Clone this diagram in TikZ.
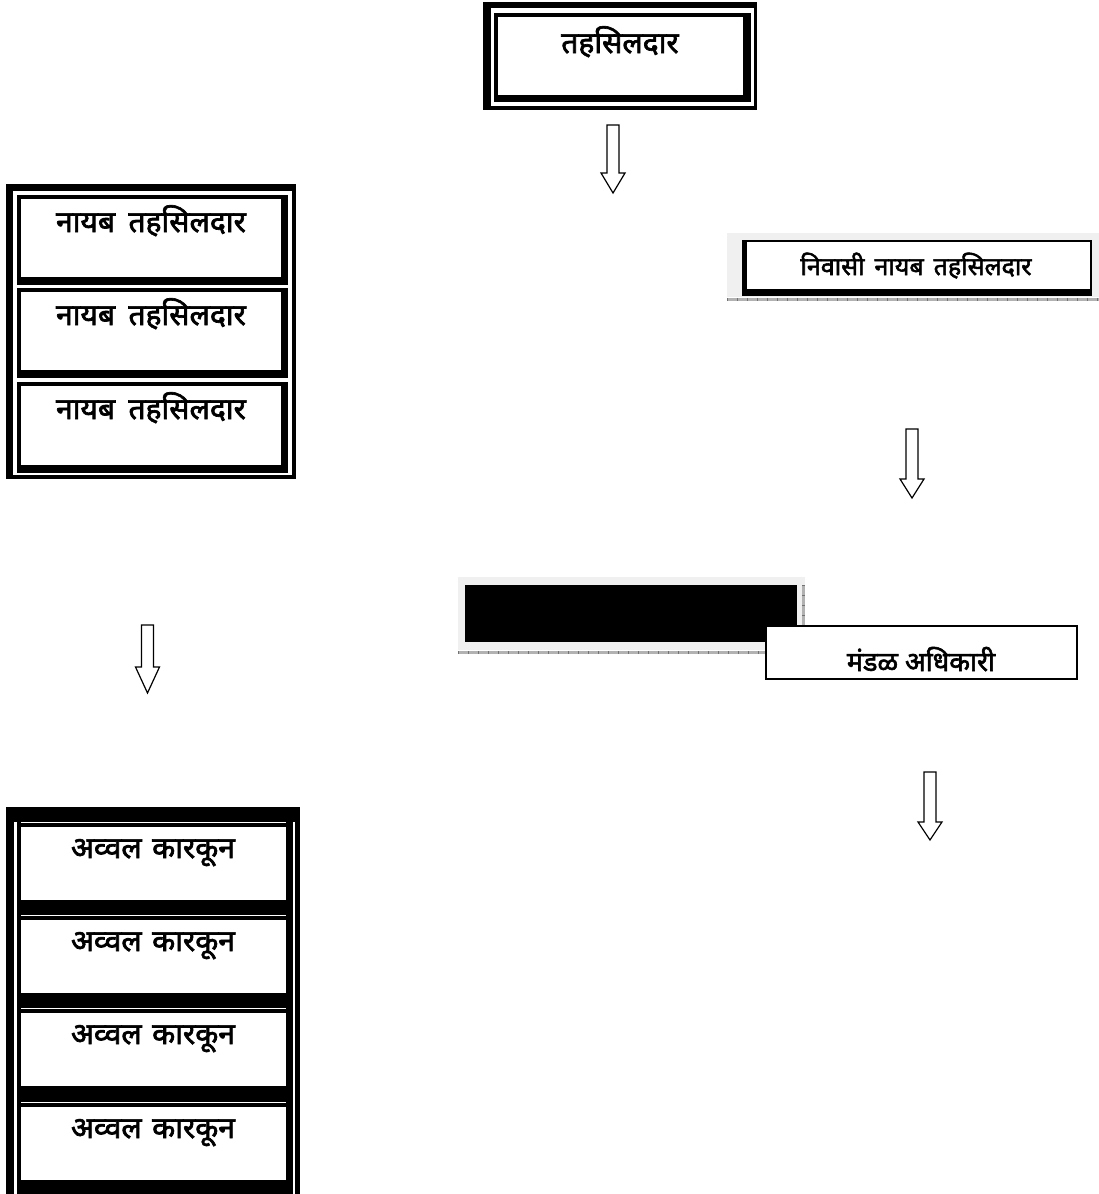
\documentclass[tikz,border=0pt]{standalone}
\usepackage{fontspec}
\newfontfamily\dev[Script=Devanagari, FakeBold=2.2]{Noto Sans}
\tikzset{
  lbl/.style={font=\dev\fontsize{30}{34}\selectfont, inner sep=0pt, anchor=base},
  lblsmall/.style={font=\dev\fontsize{25}{28}\selectfont, inner sep=0pt, anchor=base},
  arr/.style={draw=black, fill=white, line width=1.2pt, line join=miter},
  pale/.style={fill=black!6},
  ruler/.style={draw=black!30, line width=3pt},
  rulertick/.style={draw=black!55, line width=3pt, dash pattern=on 1pt off 9pt},
}
\newcommand\dnarrow[5]{% name, x, ytop, ytip, headlen
  \coordinate (#1) at (#2,#3);
  \draw[arr] (#2-6,#3) -- (#2+6,#3) -- (#2+6,#4-#5) -- (#2+12,#4-#5) -- (#2,#4)
    -- (#2-12,#4-#5) -- (#2-6,#4-#5) -- cycle;}
\begin{document}
\begin{tikzpicture}[x=1pt,y=-1pt]
\useasboundingbox[fill=white] (0,0) rectangle (1099,1194);

% top box
\fill (483,2) rectangle (757,110);
\fill[white] (491,8) rectangle (754,106);
\fill (494,13) rectangle (751,102);
\fill[white] (498,17) rectangle (743,95);
\node[lbl] (tah) at (620,53) {तहसिलदार};

% nayab column
\fill (6,184) rectangle (296,479);
\fill[white] (13,191) rectangle (292,475);
\foreach \t/\b/\n in {195/285/1, 288/378/2, 382/473/3}{
  \fill (17,\t) rectangle (288,\b);
  \fill[white] (21,\t+4) rectangle (281,\b-8);
  \node[lbl] (nayab\n) at (151,\t+37) {नायब\hspace{0.45em}तहसिलदार};
}

% karkun column
\fill (6,807) rectangle (300,1194);
\fill[white] (14,822) rectangle (17,1194);
\fill[white] (293,822) rectangle (295,1194);
\foreach \y/\n in {827/1, 920/2, 1013/3, 1107/4}{
  \fill[white] (21,\y-5) rectangle (286,\y-4);
  \fill[white] (21,\y) rectangle (286,\y+73);
  \node[lbl] (karkun\n) at (153,\y+31) {अव्वल\hspace{0.35em}कारकून};
}

% nivasi box
\fill[pale] (727,233) rectangle (1099,297);
\fill (742,240) rectangle (1092,296);
\fill[white] (747,242) rectangle (1090,289);
\draw[ruler] (727,299.5) -- (1099,299.5);
\draw[rulertick] (727,299.5) -- (1099,299.5);
\node[lblsmall] (nivasi) at (916,275) {निवासी\hspace{0.4em}नायब\hspace{0.4em}तहसिलदार};

% middle black box
\fill[pale] (458,577) rectangle (805,650);
\fill (465,585) rectangle (797,642);
\draw[ruler] (458,652) -- (800,652);
\draw[rulertick] (458,652) -- (800,652);
\draw[ruler] (803.5,585) -- (803.5,650);
\draw[rulertick] (803.5,585) -- (803.5,650);

% mandal box
\draw[line width=2pt, fill=white] (766,626) rectangle (1077,679);
\node[lblsmall, font=\dev\fontsize{27}{30}\selectfont] (mandal) at (921,671) {मंडळ अधिकारी};

% arrows
\dnarrow{a1}{613}{125}{193}{20}
\dnarrow{a2}{912}{429}{498}{19}
\dnarrow{a3}{147.5}{625}{693}{26}
\dnarrow{a4}{930}{772}{840}{18}
\end{tikzpicture}
\end{document}
